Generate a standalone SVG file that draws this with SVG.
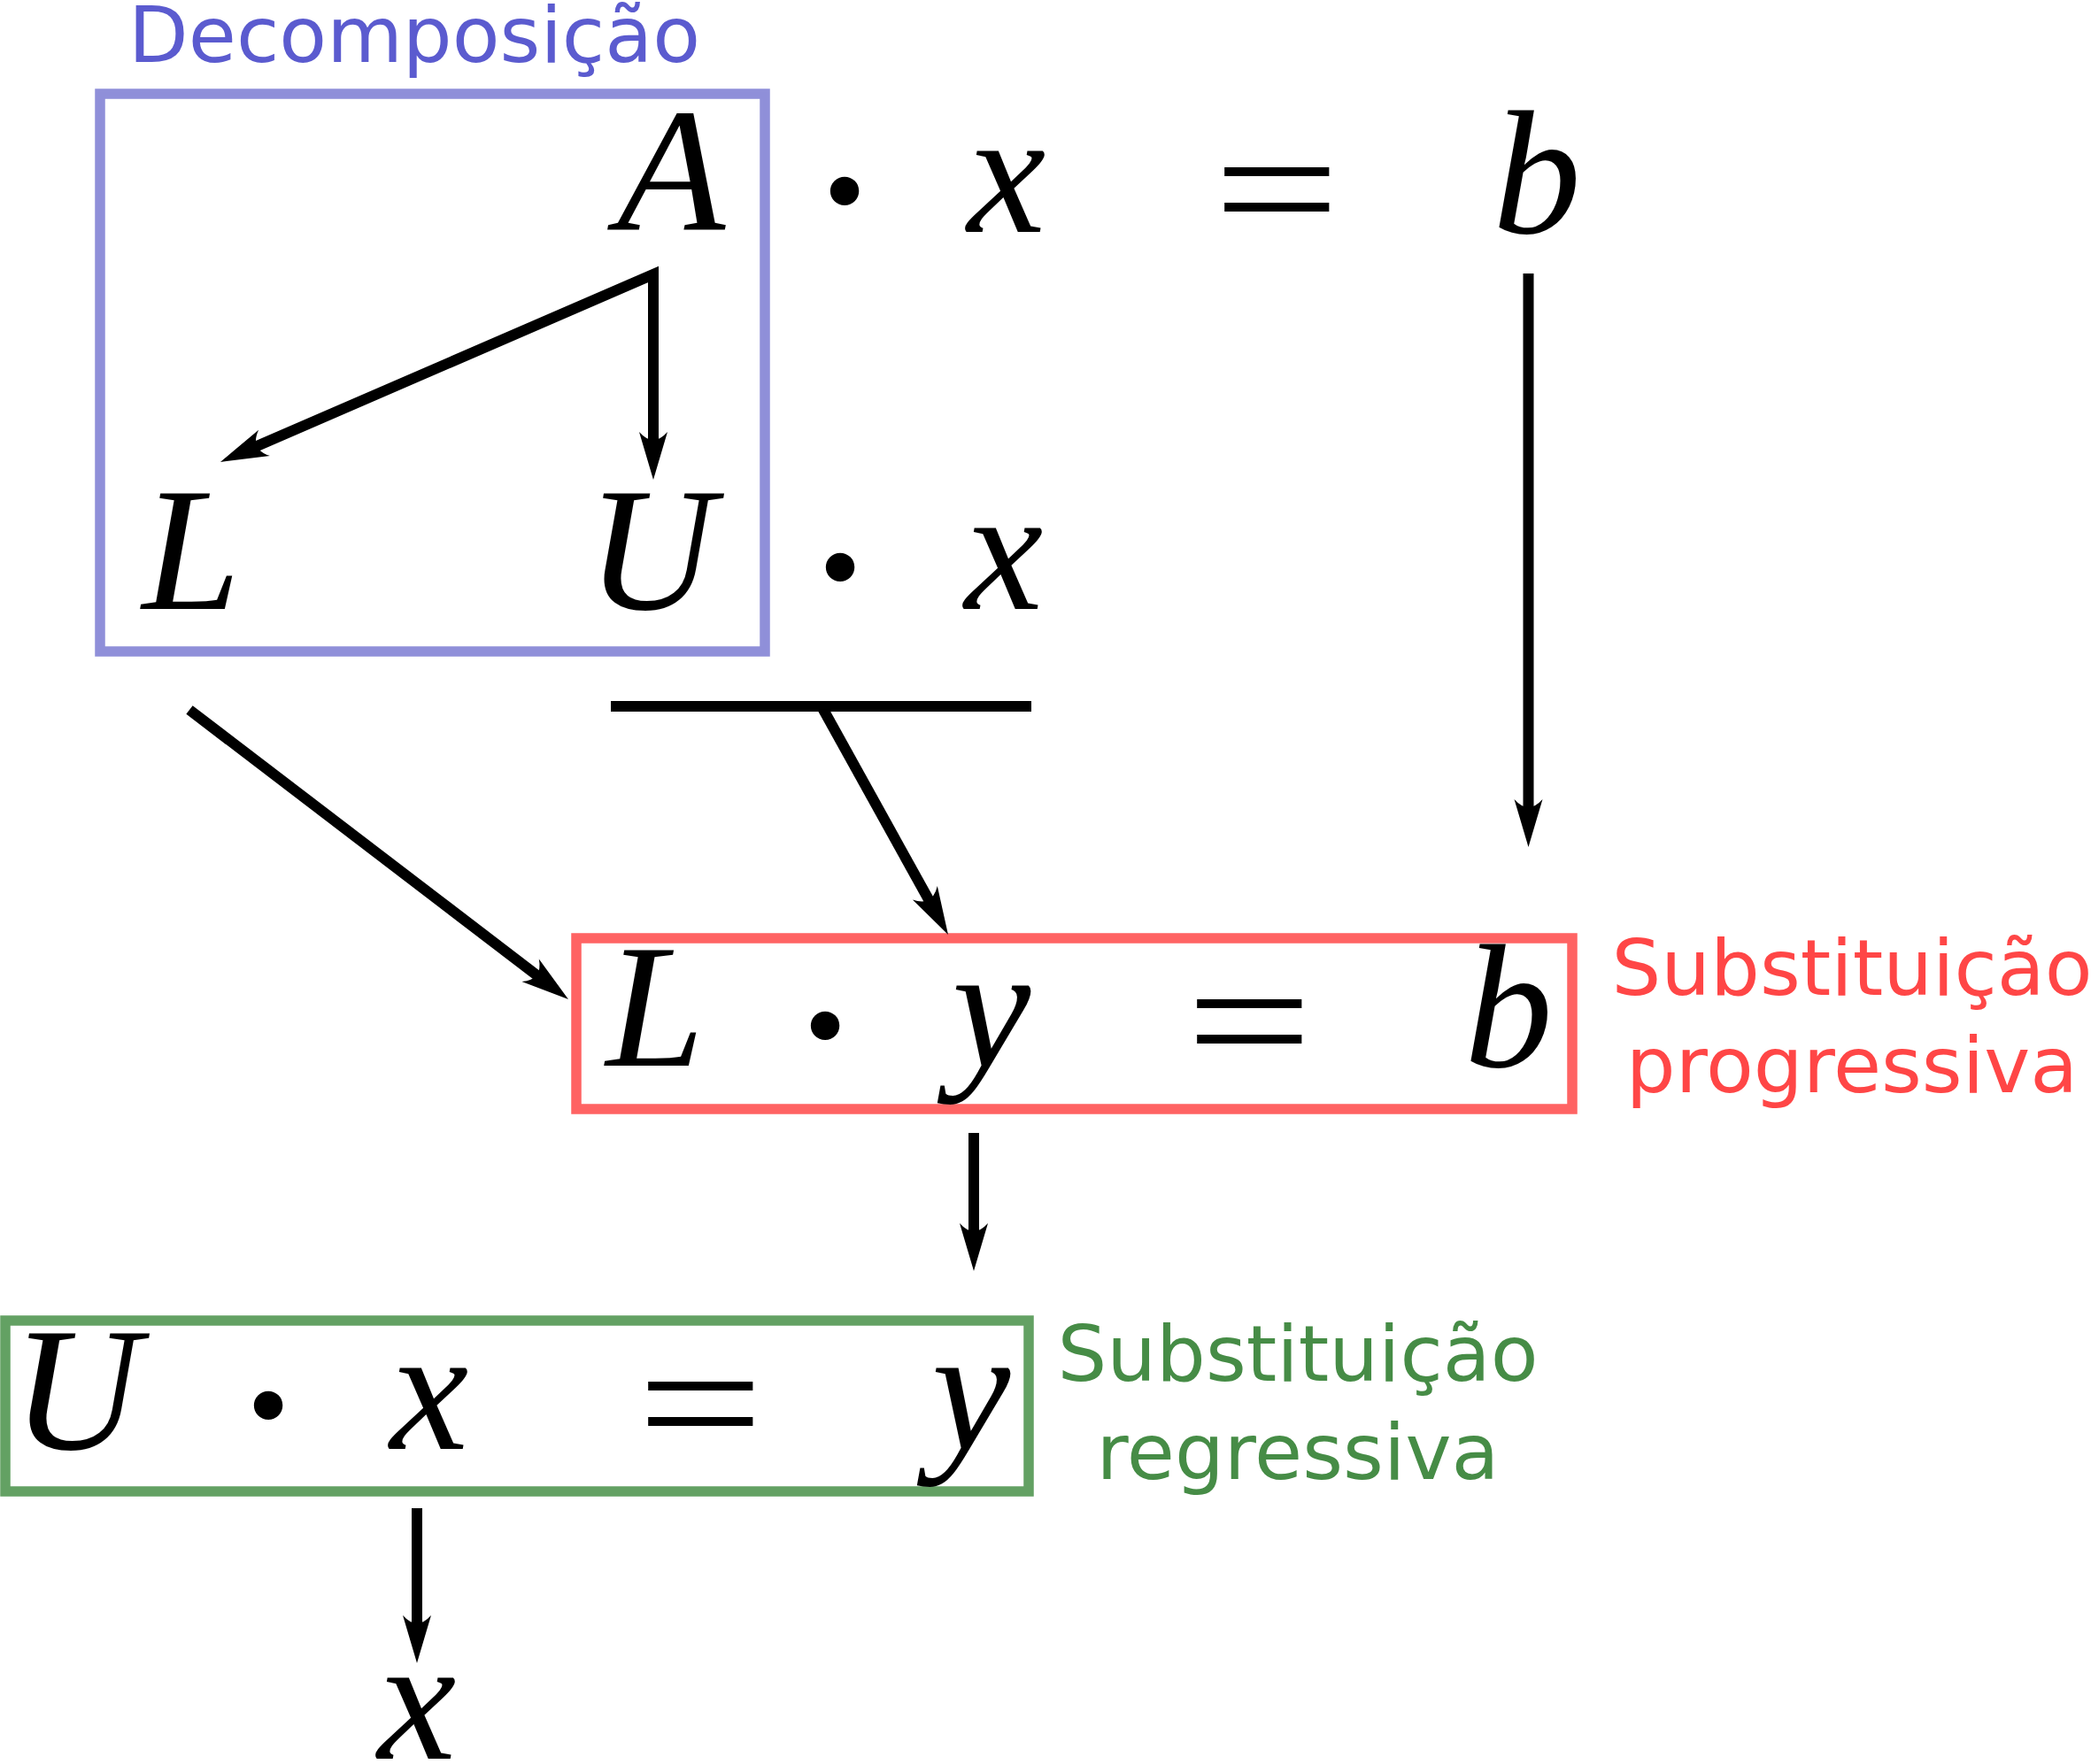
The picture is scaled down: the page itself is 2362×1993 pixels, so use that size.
<svg xmlns="http://www.w3.org/2000/svg" width="2362" height="1993" viewBox="0 0 2362 1993">
<style>
.m{font-family:"Liberation Serif","Times New Roman",serif;font-style:italic;font-size:200px;fill:#000;text-anchor:middle}
.op{font-family:"Liberation Serif","Times New Roman",serif;font-size:200px;fill:#000;text-anchor:middle}
.dot{font-weight:bold}
.lbl{font-family:"DejaVu Sans",sans-serif;font-size:88px;text-anchor:middle}
.conn{fill:none;stroke:#000;stroke-width:12;stroke-miterlimit:10}
</style>
<defs>
<marker id="ah" markerUnits="userSpaceOnUse" viewBox="-56 -18 58 36" markerWidth="58" markerHeight="36" refX="-38" refY="0" orient="auto-start-reverse">
<path d="M0 0 L-54 -16 Q-36 0 -54 16 Z" fill="#000"/>
</marker>
</defs>
<rect width="2362" height="1993" fill="#fff"/>
<g id="decomposicao">
<rect x="113" y="106" width="751" height="630" fill="none" stroke="#8f8fd9" stroke-width="11.5"/>
<text class="lbl" x="468" y="70" fill="#5b5bcf">Decomposição</text>
</g>
<g id="A"><text class="m" x="758" y="259">A</text></g>
<g id="top-eq">
<text class="op dot" x="954" y="282">·</text>
<text class="m" x="1137" y="262">x</text>
<text class="op" transform="translate(1442 280) scale(1.27 1)" x="0" y="0">=</text>
<text class="m" x="1736" y="263">b</text>
</g>
<g id="L"><text class="m" x="216" y="688">L</text></g>
<g id="U"><text class="m" x="735" y="688">U</text></g>
<g id="mid-eq">
<text class="op dot" x="949" y="707">·</text>
<text class="m" x="1134" y="688">x</text>
</g>
<g id="progressiva">
<rect x="651" y="1060" width="1125" height="193" fill="none" stroke="#ff6363" stroke-width="11.5"/>
<text class="m" x="740" y="1204">L</text>
<text class="op dot" x="932" y="1225">·</text>
<text class="m" x="1120" y="1205">y</text>
<text class="op" transform="translate(1411 1220) scale(1.27 1)" x="0" y="0">=</text>
<text class="m" x="1704" y="1205">b</text>
<text class="lbl" x="2092" y="1124" fill="#ff4646">Substituição</text>
<text class="lbl" x="2092" y="1234" fill="#ff4646">progressiva</text>
</g>
<g id="regressiva">
<rect x="6" y="1492" width="1156" height="193" fill="none" stroke="#63a163" stroke-width="11.5"/>
<text class="m" x="86" y="1637">U</text>
<text class="op dot" x="303" y="1654">·</text>
<text class="m" x="485" y="1637">x</text>
<text class="op" transform="translate(791 1652) scale(1.27 1)" x="0" y="0">=</text>
<text class="m" x="1097" y="1637">y</text>
<text class="lbl" x="1466" y="1560" fill="#468c46">Substituição</text>
<text class="lbl" x="1466" y="1671" fill="#468c46">regressiva</text>
</g>
<g id="x-result"><text class="m" x="471" y="1987">x</text></g>
<g id="connectors">
<path class="conn" d="M283.8 506.8 L738 310 L738 504" marker-start="url(#ah)" marker-end="url(#ah)"/>
<path class="conn" d="M1726.5 309 L1726.5 919" marker-end="url(#ah)"/>
<path class="conn" d="M214 802 L611.8 1105.9" marker-end="url(#ah)"/>
<path class="conn" d="M690 798 L1165 798"/>
<path class="conn" d="M928 798 L1052.6 1022.8" marker-end="url(#ah)"/>
<path class="conn" d="M1100 1280 L1100 1398" marker-end="url(#ah)"/>
<path class="conn" d="M471 1704 L471 1841" marker-end="url(#ah)"/>
</g>
</svg>
